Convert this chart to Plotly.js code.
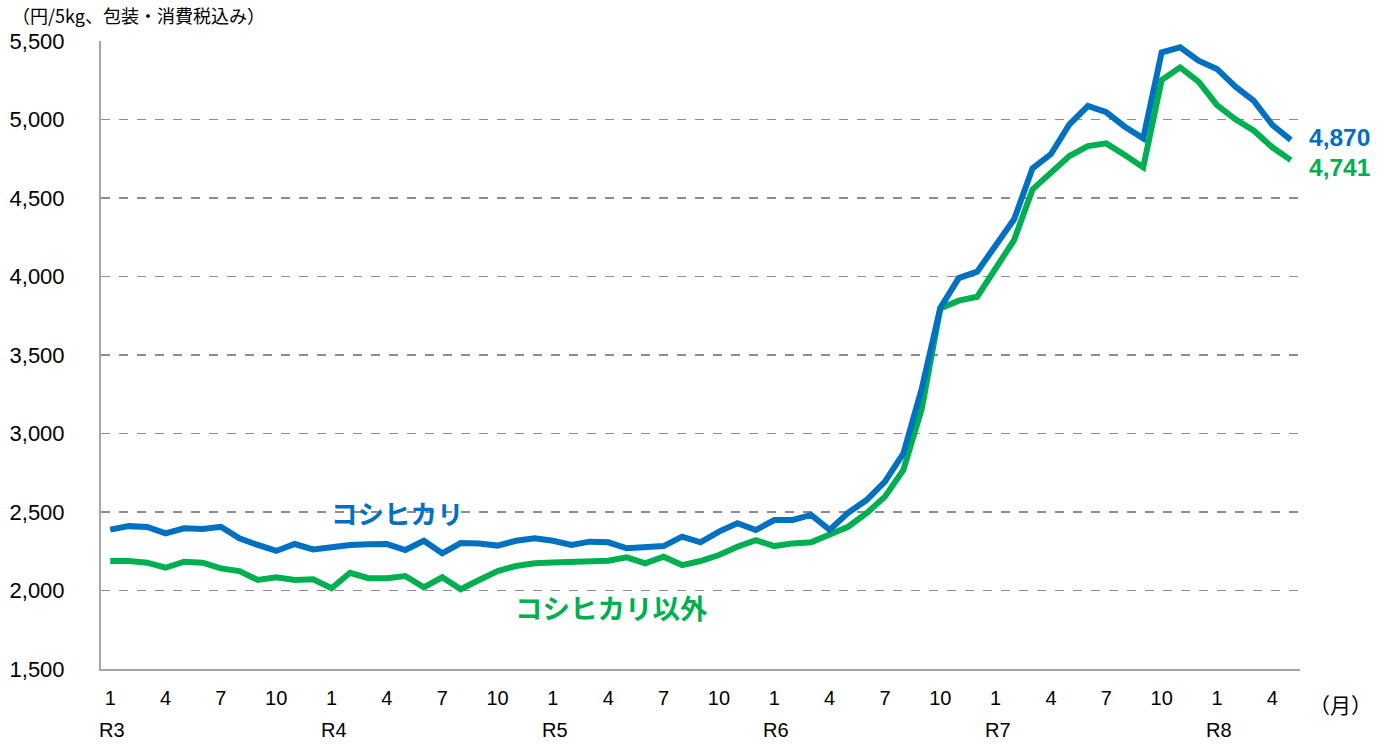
<!DOCTYPE html>
<html>
<head>
<meta charset="utf-8">
<script src="https://cdn.plot.ly/plotly-3.0.1.min.js"></script>
<style>
html,body{margin:0;padding:0;background:#fff;}
#chart{width:1387px;height:744px;}
</style>
</head>
<body>
<div id="chart"></div>
<script>
// Periods: Reiwa years and months (R3.1 ... R8.5)
const eras = ["R3", "R4", "R5", "R6", "R7", "R8"];
const monthsPerEra = [12, 12, 12, 12, 12, 5];
const tickMonths = [1, 4, 7, 10];

// Price (yen / 5kg, incl. packaging & tax)
const koshihikari = [
  2388, 2410, 2405, 2364, 2396, 2392, 2406, 2332, 2290, 2252, 2296, 2262,
  2275, 2290, 2294, 2296, 2258, 2317, 2237, 2302, 2300, 2286, 2317, 2332,
  2317, 2290, 2311, 2307, 2269, 2279, 2283, 2343, 2307, 2375, 2428, 2385,
  2449, 2449, 2481, 2386, 2495, 2576, 2693, 2874, 3288, 3800, 3990, 4031,
  4190, 4364, 4689, 4780, 4969, 5086, 5046, 4954, 4880, 5428, 5460, 5375,
  5322, 5209, 5118, 4965, 4870
];
const otherVarieties = [
  2188, 2188, 2177, 2145, 2183, 2177, 2141, 2124, 2067, 2084, 2067, 2071,
  2014, 2113, 2078, 2078, 2092, 2020, 2084, 2008, 2067, 2124, 2156, 2173,
  2179, 2184, 2188, 2190, 2211, 2173, 2215, 2162, 2188, 2226, 2279, 2320,
  2283, 2300, 2307, 2353, 2406, 2492, 2598, 2768, 3160, 3797, 3846, 3871,
  4046, 4232, 4555, 4657, 4767, 4831, 4848, 4774, 4695, 5252, 5332, 5241,
  5092, 5001, 4929, 4823, 4741
];
const seriesNames = ["コシヒカリ", "コシヒカリ以外"];
const lastLabels = ["4,870", "4,741"];
const yTicks = [1500, 2000, 2500, 3000, 3500, 4000, 4500, 5000, 5500];

// category keys
const cats = [];
const tickvals = [], ticktext = [];
eras.forEach((e, i) => {
  for (let m = 1; m <= monthsPerEra[i]; m++) {
    const k = e + "." + m;
    cats.push(k);
    if (tickMonths.includes(m)) { tickvals.push(k); ticktext.push(String(m)); }
  }
});

const BLUE = "#0070C0", GREEN = "#00B050";
const narrow = "'Liberation Sans Narrow', 'Arial Narrow', 'Liberation Sans', Arial, sans-serif";
const jp = "'Noto Sans CJK JP', 'Noto Sans', sans-serif";

const traces = [
  {x: cats, y: otherVarieties, type: "scatter", mode: "lines", name: seriesNames[1],
   line: {color: GREEN, width: 6, shape: "linear"}, hoverinfo: "x+y"},
  {x: cats, y: koshihikari, type: "scatter", mode: "lines", name: seriesNames[0],
   line: {color: BLUE, width: 6, shape: "linear"}, hoverinfo: "x+y"}
];

const annotations = [
  {text: "（円/5kg、包装・消費税込み）", xref: "paper", yref: "paper", x: -0.0759, y: 1.0414,
   xanchor: "left", yanchor: "middle", showarrow: false, font: {family: jp, size: 18, color: "#000"}},
  {text: "（月）", xref: "paper", yref: "paper", x: 1.006, y: -0.0557,
   xanchor: "left", yanchor: "middle", showarrow: false, font: {family: jp, size: 21, color: "#000"}},
  {text: "<b>" + seriesNames[0] + "</b>", xref: "x", yref: "y", x: cats[12], y: 2500,
   xanchor: "left", yanchor: "middle", xshift: -3, showarrow: false, font: {family: jp, size: 26.5, color: BLUE}},
  {text: "<b>" + seriesNames[1] + "</b>", xref: "x", yref: "y", x: cats[22], y: 1895,
   xanchor: "left", yanchor: "middle", xshift: -3, showarrow: false, font: {family: jp, size: 27.5, color: GREEN}},
  {text: "<b>" + lastLabels[0] + "</b>", xref: "x", yref: "y", x: cats[64], y: 4884,
   xanchor: "left", yanchor: "middle", xshift: 17, showarrow: false, borderpad: 0, font: {family: narrow, size: 24.5, color: BLUE}},
  {text: "<b>" + lastLabels[1] + "</b>", xref: "x", yref: "y", x: cats[64], y: 4697,
   xanchor: "left", yanchor: "middle", xshift: 17, showarrow: false, borderpad: 0, font: {family: narrow, size: 24.5, color: GREEN}}
];
eras.forEach(e => {
  annotations.push({text: e, xref: "x", yref: "paper", x: e + ".1", y: -0.077,
    xanchor: "center", yanchor: "top", showarrow: false, xshift: 2,
    font: {family: narrow, size: 20, color: "#000"}});
});

const layout = {
  width: 1387, height: 744,
  margin: {l: 101, r: 87, t: 41, b: 75},
  paper_bgcolor: "#fff", plot_bgcolor: "#fff",
  showlegend: false,
  font: {family: narrow, color: "#000"},
  xaxis: {
    type: "category", categoryorder: "array", categoryarray: cats,
    range: [-0.5, 64.5], tickmode: "array", tickvals: tickvals, ticktext: ticktext,
    showgrid: false, zeroline: false, showline: true, linecolor: "#a6a6a6", linewidth: 2,
    ticks: "outside", ticklen: 10, tickcolor: "rgba(0,0,0,0)",
    tickfont: {family: narrow, size: 20, color: "#000"}, fixedrange: true
  },
  yaxis: {
    range: [1500, 5500], tickmode: "array", tickvals: yTicks,
    ticktext: yTicks.map(v => v.toLocaleString("en-US")),
    showgrid: true, gridcolor: "#8c8c8c", gridwidth: 1.5, griddash: "dash",
    zeroline: false, showline: true, linecolor: "#a6a6a6", linewidth: 2,
    ticks: "outside", ticklen: 30, tickcolor: "rgba(0,0,0,0)",
    tickfont: {family: "'Liberation Sans', Arial, sans-serif", size: 22, color: "#000"}, fixedrange: true
  },
  annotations: annotations
};

Plotly.newPlot("chart", traces, layout, {displayModeBar: false, staticPlot: true});
</script>
</body>
</html>
